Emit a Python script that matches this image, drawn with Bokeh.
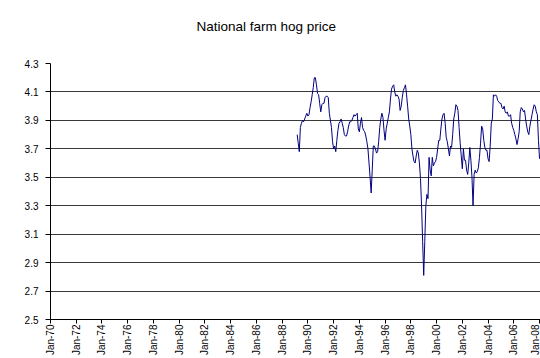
import math
import pandas as pd
from bokeh.plotting import figure
from bokeh.models import FixedTicker, Range1d, Title
from bokeh.embed import file_html
from bokeh.resources import INLINE

TITLE = "National farm hog price"
START_MONTH = "1989-03-01"
PRICE = [
    3.80, 3.74, 3.68, 3.85, 3.88, 3.90, 3.89, 3.91, 3.93, 3.95,
    3.93, 3.94, 3.99, 4.03, 4.08, 4.13, 4.20, 4.20, 4.15, 4.09,
    4.08, 4.02, 3.96, 4.01, 4.02, 4.02, 4.06, 4.07, 4.07, 4.06,
    3.95, 3.90, 3.85, 3.75, 3.70, 3.72, 3.68, 3.76, 3.83, 3.88,
    3.89, 3.91, 3.88, 3.85, 3.80, 3.79, 3.79, 3.82, 3.86, 3.89,
    3.89, 3.90, 3.92, 3.94, 3.93, 3.94, 3.95, 3.84, 3.82, 3.88,
    3.92, 3.85, 3.83, 3.82, 3.79, 3.75, 3.70, 3.60, 3.50, 3.39,
    3.55, 3.72, 3.72, 3.70, 3.67, 3.68, 3.75, 3.85, 3.91, 3.95,
    3.92, 3.83, 3.76, 3.84, 3.88, 3.92, 3.96, 4.05, 4.12, 4.14,
    4.15, 4.10, 4.07, 4.08, 4.07, 4.05, 3.97, 4.00, 4.06, 4.11,
    4.13, 4.15, 4.08, 4.00, 3.91, 3.86, 3.80, 3.70, 3.65, 3.61,
    3.60, 3.65, 3.69, 3.67, 3.60, 3.49, 3.30, 3.05, 2.81, 3.05,
    3.30, 3.38, 3.35, 3.64, 3.55, 3.51, 3.64, 3.58, 3.60, 3.61,
    3.64, 3.70, 3.76, 3.76, 3.84, 3.91, 3.94, 3.95, 3.88, 3.78,
    3.75, 3.70, 3.65, 3.72, 3.71, 3.80, 3.91, 3.95, 4.01, 4.00,
    3.97, 3.85, 3.74, 3.65, 3.56, 3.70, 3.62, 3.62, 3.55, 3.52,
    3.60, 3.71, 3.62, 3.50, 3.30, 3.52, 3.55, 3.53, 3.54, 3.57,
    3.64, 3.74, 3.86, 3.84, 3.76, 3.71, 3.69, 3.69, 3.63, 3.61,
    3.72, 3.88, 3.91, 4.08, 4.07, 4.08, 4.07, 4.04, 4.03, 4.02,
    4.02, 3.99, 3.98, 4.00, 3.96, 3.95, 3.96, 3.93, 3.93, 3.94,
    3.88, 3.85, 3.83, 3.80, 3.77, 3.73, 3.77, 3.82, 3.96, 3.99,
    3.98, 3.96, 3.97, 3.91, 3.86, 3.82, 3.80, 3.86, 3.90, 3.94,
    3.98, 4.01, 4.00, 3.96, 3.94, 3.76, 3.63,
]
X_TICK_LABELS = ["Jan-70", "Jan-72", "Jan-74", "Jan-76", "Jan-78", "Jan-80",
                 "Jan-82", "Jan-84", "Jan-86", "Jan-88", "Jan-90", "Jan-92",
                 "Jan-94", "Jan-96", "Jan-98", "Jan-00", "Jan-02", "Jan-04",
                 "Jan-06", "Jan-08"]
Y_TICKS = [2.5, 2.7, 2.9, 3.1, 3.3, 3.5, 3.7, 3.9, 4.1, 4.3]

# month index since Jan-1970
dates = pd.date_range(START_MONTH, periods=len(PRICE), freq="MS")
xm = [(d.year - 1970) * 12 + (d.month - 1) for d in dates]
x_ticks = [24 * i for i in range(len(X_TICK_LABELS))]

FONT = "Liberation Sans"

p = figure(width=540, height=358, output_backend="svg", toolbar_location=None,
           x_range=Range1d(0, 456.9), y_range=Range1d(2.5, 4.3),
           min_border_left=50, min_border_right=0, min_border_top=63,
           min_border_bottom=36)
p.outline_line_color = None
p.background_fill_color = "white"
p.border_fill_color = "white"
p.title.visible = False

# spacer panel next to the frame, then the real title above it
p.add_layout(Title(text=" ", text_font=FONT, text_font_size="14px", standoff=12), "above")
p.add_layout(Title(text=TITLE, text_font=FONT, text_font_size="13.5px",
                   text_font_style="normal", text_color="black",
                   align="left", offset=146, standoff=0), "above")

p.line(xm, PRICE, line_color="#000080", line_width=1)

p.xgrid.visible = False
p.ygrid.ticker = FixedTicker(ticks=Y_TICKS)
p.ygrid.grid_line_color = "#3a3a3a"
p.ygrid.grid_line_width = 1

for ax in (p.xaxis[0], p.yaxis[0]):
    ax.axis_line_color = "black"
    ax.axis_line_width = 1
    ax.major_tick_line_color = "black"
    ax.major_tick_in = 0
    ax.minor_tick_line_color = None
    ax.major_label_text_font = FONT
    ax.major_label_text_color = "black"
    ax.major_label_text_font_size = "10px"

p.xaxis.ticker = FixedTicker(ticks=x_ticks)
p.xaxis.major_label_overrides = {t: lab for t, lab in zip(x_ticks, X_TICK_LABELS)}
p.xaxis.major_label_orientation = math.pi / 2
p.xaxis.major_tick_out = 4
p.xaxis.major_label_standoff = 1

p.yaxis.ticker = FixedTicker(ticks=Y_TICKS)
p.yaxis.major_label_overrides = {t: f"{t:.1f}" for t in Y_TICKS}
p.yaxis.major_tick_out = 5
p.yaxis.major_label_standoff = 7

open("out.html", "w").write(file_html(p, INLINE))
